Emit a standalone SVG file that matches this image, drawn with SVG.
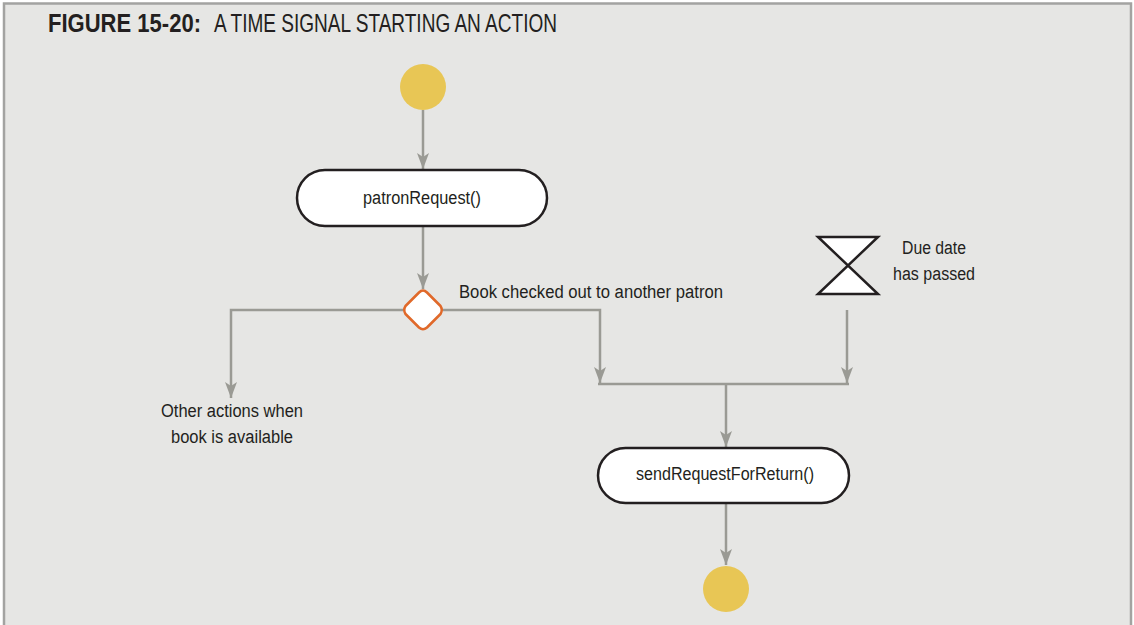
<svg xmlns="http://www.w3.org/2000/svg" width="1134" height="625" viewBox="0 0 1134 625">
  <style>
    .frame { fill: #e6e6e4; stroke: #a3a3a1; stroke-width: 2.5; }
    .flow { fill: none; stroke: #9a9a94; stroke-width: 2.5; }
    .action { fill: #ffffff; stroke: #231f20; stroke-width: 2.5; }
    .dot { fill: #e8c655; }
    .decision { fill: #ffffff; stroke: #e0692a; stroke-width: 2.5; stroke-linejoin: round; }
    .timer { fill: #ffffff; stroke: #231f20; stroke-width: 2.5; stroke-linejoin: miter; }
    .label { font-family: "Liberation Sans", Arial, sans-serif; font-size: 18px; fill: #231f20; }
    .mid { text-anchor: middle; }
    .title-b { font-family: "Liberation Sans", Arial, sans-serif; font-size: 25px; font-weight: bold; fill: #231f20; }
    .title-l { font-family: "Liberation Sans", Arial, sans-serif; font-size: 25px; fill: #231f20; }
  </style>
  <defs>
    <marker id="arrow" markerUnits="userSpaceOnUse" markerWidth="18" markerHeight="12" refX="16" refY="6" orient="auto">
      <path d="M0,0 L16,6 L0,12 L4,6 z" fill="#9a9a94"/>
    </marker>
  </defs>

  <!-- panel -->
  <path class="frame" d="M4,630 L4,3.5 L1131,3.5 L1131,630"/>
  <text x="48" y="32" class="title-b" textLength="153" lengthAdjust="spacingAndGlyphs">FIGURE 15-20:</text>
  <text x="214" y="32" class="title-l" textLength="343" lengthAdjust="spacingAndGlyphs">A TIME SIGNAL STARTING AN ACTION</text>

  <!-- connectors -->
  <g id="connectors">
    <line class="flow" x1="423" y1="110" x2="423" y2="169" marker-end="url(#arrow)"/>
    <line class="flow" x1="423" y1="226" x2="423" y2="289" marker-end="url(#arrow)"/>
    <polyline class="flow" points="403,310 231,310 231,398" marker-end="url(#arrow)"/>
    <polyline class="flow" points="443,310 600,310 600,383" marker-end="url(#arrow)"/>
    <line class="flow" x1="847" y1="310" x2="847" y2="383" marker-end="url(#arrow)"/>
    <line class="flow" x1="598" y1="384" x2="849" y2="384"/>
    <line class="flow" x1="726" y1="384" x2="726" y2="447" marker-end="url(#arrow)"/>
    <line class="flow" x1="726" y1="503" x2="726" y2="565" marker-end="url(#arrow)"/>
  </g>

  <!-- initial node -->
  <g id="start">
    <circle class="dot" cx="423" cy="87" r="23"/>
  </g>

  <!-- patronRequest action -->
  <g id="patronRequest">
    <rect class="action" x="297" y="170" width="250" height="56" rx="28" ry="28"/>
    <text x="422" y="204" class="label mid" textLength="118" lengthAdjust="spacingAndGlyphs">patronRequest()</text>
  </g>

  <!-- decision -->
  <g id="decision">
    <path class="decision" d="M423,290.5 Q425,290.5 427,292.5 L440.5,306 Q443,310 440.5,314 L427,327.5 Q423,331 419,327.5 L405.5,314 Q403,310 405.5,306 L419,292.5 Q421,290.5 423,290.5 z"/>
    <text x="459" y="298" class="label" textLength="264" lengthAdjust="spacingAndGlyphs">Book checked out to another patron</text>
  </g>

  <!-- other actions -->
  <g id="otherActions">
    <text x="232" y="417" class="label mid" textLength="142" lengthAdjust="spacingAndGlyphs">Other actions when</text>
    <text x="232" y="443" class="label mid" textLength="122" lengthAdjust="spacingAndGlyphs">book is available</text>
  </g>

  <!-- time event -->
  <g id="timeSignal">
    <polygon class="timer" points="818,237 878,237 818,294 878,294"/>
    <text x="934" y="254" class="label mid" textLength="64" lengthAdjust="spacingAndGlyphs">Due date</text>
    <text x="934" y="280" class="label mid" textLength="82" lengthAdjust="spacingAndGlyphs">has passed</text>
  </g>

  <!-- sendRequestForReturn action -->
  <g id="sendRequestForReturn">
    <rect class="action" x="598" y="448" width="251" height="55" rx="27.5" ry="27.5"/>
    <text x="725" y="480" class="label mid" textLength="178" lengthAdjust="spacingAndGlyphs">sendRequestForReturn()</text>
  </g>

  <!-- final node -->
  <g id="end">
    <circle class="dot" cx="726" cy="589" r="23"/>
  </g>
</svg>
